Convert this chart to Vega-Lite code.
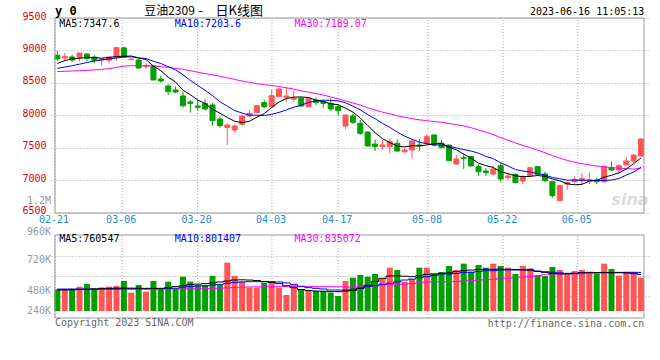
{
"$schema": "https://vega.github.io/schema/vega-lite/v6.json",
"width": 599, "height": 300,
"autosize": {"type": "none"},
"padding": {"left": 50, "top": 18, "right": 11, "bottom": 42},
"background": "white",
"config": {"view": {"stroke": null}, "text": {"font": "DejaVu Sans Mono", "fontSize": 10, "baseline": "middle"}},
"datasets": {
"one": [{}],
"grid": [
{"g": -0.32, "d": "02-21"}, {"g": 8.77, "d": "03-06"}, {"g": 18.98, "d": "03-20"}, {"g": 29.05, "d": "04-03"},
{"g": 38.0, "d": "04-17"}, {"g": 50.16, "d": "05-08"}, {"g": 60.33, "d": "05-22"}, {"g": 70.44, "d": "06-05"}
],
"k": [
{"i":0,"d":"02-21","o":8926,"h":8992,"l":8844,"c":8870,"v":455,"m5":8800,"m10":8725,"m30":8676,"vm5":441,"vm10":460,"vm30":452},
{"i":1,"d":"02-22","o":8885,"h":8961,"l":8838,"c":8905,"v":441,"m5":8845,"m10":8745,"m30":8680,"vm5":441,"vm10":460,"vm30":453},
{"i":2,"d":"02-23","o":8900,"h":8936,"l":8818,"c":8854,"v":441,"m5":8870,"m10":8765,"m30":8685,"vm5":445,"vm10":461,"vm30":454},
{"i":3,"d":"02-24","o":8890,"h":8965,"l":8833,"c":8961,"v":511,"m5":8880,"m10":8790,"m30":8690,"vm5":450,"vm10":462,"vm30":455},
{"i":4,"d":"02-27","o":8946,"h":8950,"l":8838,"c":8879,"v":567,"m5":8894,"m10":8815,"m30":8695,"vm5":455,"vm10":462,"vm30":455},
{"i":5,"d":"02-28","o":8900,"h":8926,"l":8802,"c":8849,"v":476,"m5":8890,"m10":8838,"m30":8702,"vm5":460,"vm10":462,"vm30":456},
{"i":6,"d":"03-01","o":8854,"h":8879,"l":8767,"c":8869,"v":497,"m5":8882,"m10":8855,"m30":8710,"vm5":470,"vm10":463,"vm30":457},
{"i":7,"d":"03-02","o":8849,"h":8920,"l":8802,"c":8900,"v":511,"m5":8892,"m10":8870,"m30":8722,"vm5":476,"vm10":463,"vm30":458},
{"i":8,"d":"03-03","o":8895,"h":9059,"l":8844,"c":9044,"v":525,"m5":8908,"m10":8885,"m30":8740,"vm5":480,"vm10":463,"vm30":458},
{"i":9,"d":"03-06","o":9040,"h":9055,"l":8890,"c":8895,"v":630,"m5":8911,"m10":8903,"m30":8760,"vm5":482,"vm10":464,"vm30":459},
{"i":10,"d":"03-07","o":8860,"h":8880,"l":8845,"c":8865,"v":385,"m5":8915,"m10":8902,"m30":8765,"vm5":480,"vm10":465,"vm30":460},
{"i":11,"d":"03-08","o":8854,"h":8869,"l":8720,"c":8731,"v":546,"m5":8887,"m10":8885,"m30":8767,"vm5":478,"vm10":465,"vm30":460},
{"i":12,"d":"03-09","o":8756,"h":8802,"l":8715,"c":8767,"v":406,"m5":8860,"m10":8876,"m30":8767,"vm5":476,"vm10":466,"vm30":461},
{"i":13,"d":"03-10","o":8761,"h":8777,"l":8546,"c":8546,"v":630,"m5":8761,"m10":8835,"m30":8762,"vm5":476,"vm10":468,"vm30":461},
{"i":14,"d":"03-13","o":8562,"h":8608,"l":8505,"c":8531,"v":476,"m5":8688,"m10":8800,"m30":8752,"vm5":476,"vm10":470,"vm30":462},
{"i":15,"d":"03-14","o":8454,"h":8479,"l":8315,"c":8367,"v":616,"m5":8588,"m10":8752,"m30":8740,"vm5":490,"vm10":475,"vm30":462},
{"i":16,"d":"03-15","o":8392,"h":8444,"l":8341,"c":8362,"v":476,"m5":8515,"m10":8701,"m30":8725,"vm5":515,"vm10":480,"vm30":463},
{"i":17,"d":"03-16","o":8300,"h":8367,"l":8120,"c":8151,"v":721,"m5":8391,"m10":8626,"m30":8710,"vm5":532,"vm10":500,"vm30":464},
{"i":18,"d":"03-17","o":8208,"h":8238,"l":8044,"c":8187,"v":616,"m5":8320,"m10":8540,"m30":8690,"vm5":555,"vm10":515,"vm30":465},
{"i":19,"d":"03-20","o":8146,"h":8238,"l":8074,"c":8126,"v":546,"m5":8239,"m10":8463,"m30":8665,"vm5":565,"vm10":525,"vm30":466},
{"i":20,"d":"03-21","o":8187,"h":8249,"l":8074,"c":8100,"v":546,"m5":8185,"m10":8387,"m30":8645,"vm5":575,"vm10":530,"vm30":468},
{"i":21,"d":"03-22","o":8162,"h":8197,"l":7843,"c":7920,"v":735,"m5":8097,"m10":8306,"m30":8625,"vm5":590,"vm10":545,"vm30":472},
{"i":22,"d":"03-23","o":7946,"h":7982,"l":7813,"c":7844,"v":546,"m5":8035,"m10":8213,"m30":8605,"vm5":610,"vm10":560,"vm30":478},
{"i":23,"d":"03-24","o":7818,"h":7880,"l":7546,"c":7854,"v":1015,"m5":7969,"m10":8144,"m30":8580,"vm5":630,"vm10":581,"vm30":485},
{"i":24,"d":"03-27","o":7777,"h":7864,"l":7736,"c":7839,"v":735,"m5":7911,"m10":8075,"m30":8555,"vm5":651,"vm10":600,"vm30":492},
{"i":25,"d":"03-28","o":7864,"h":8018,"l":7844,"c":7992,"v":616,"m5":7890,"m10":8038,"m30":8530,"vm5":655,"vm10":610,"vm30":498},
{"i":26,"d":"03-29","o":7992,"h":8085,"l":7982,"c":8033,"v":490,"m5":7912,"m10":8005,"m30":8510,"vm5":650,"vm10":616,"vm30":503},
{"i":27,"d":"03-30","o":8044,"h":8162,"l":8033,"c":8151,"v":490,"m5":7974,"m10":8005,"m30":8490,"vm5":640,"vm10":616,"vm30":507},
{"i":28,"d":"03-31","o":8198,"h":8238,"l":8110,"c":8136,"v":595,"m5":8030,"m10":8000,"m30":8475,"vm5":620,"vm10":616,"vm30":510},
{"i":29,"d":"04-03","o":8136,"h":8392,"l":8126,"c":8305,"v":595,"m5":8123,"m10":8017,"m30":8461,"vm5":600,"vm10":616,"vm30":511},
{"i":30,"d":"04-04","o":8289,"h":8420,"l":8285,"c":8408,"v":490,"m5":8207,"m10":8048,"m30":8446,"vm5":575,"vm10":610,"vm30":511},
{"i":31,"d":"04-06","o":8280,"h":8428,"l":8212,"c":8300,"v":336,"m5":8260,"m10":8086,"m30":8426,"vm5":530,"vm10":590,"vm30":511},
{"i":32,"d":"04-07","o":8250,"h":8382,"l":8212,"c":8265,"v":546,"m5":8283,"m10":8128,"m30":8406,"vm5":490,"vm10":560,"vm30":511},
{"i":33,"d":"04-10","o":8265,"h":8280,"l":8135,"c":8146,"v":455,"m5":8285,"m10":8158,"m30":8379,"vm5":450,"vm10":520,"vm30":511},
{"i":34,"d":"04-11","o":8135,"h":8280,"l":8120,"c":8265,"v":420,"m5":8277,"m10":8200,"m30":8358,"vm5":430,"vm10":490,"vm30":511},
{"i":35,"d":"04-12","o":8238,"h":8280,"l":8162,"c":8203,"v":420,"m5":8236,"m10":8221,"m30":8337,"vm5":420,"vm10":476,"vm30":511},
{"i":36,"d":"04-13","o":8212,"h":8238,"l":8120,"c":8187,"v":420,"m5":8213,"m10":8237,"m30":8314,"vm5":415,"vm10":462,"vm30":511},
{"i":37,"d":"04-14","o":8187,"h":8265,"l":8074,"c":8100,"v":385,"m5":8180,"m10":8232,"m30":8287,"vm5":406,"vm10":441,"vm30":511},
{"i":38,"d":"04-17","o":8135,"h":8177,"l":7997,"c":8074,"v":315,"m5":8166,"m10":8225,"m30":8255,"vm5":406,"vm10":441,"vm30":508},
{"i":39,"d":"04-18","o":7838,"h":8008,"l":7792,"c":8008,"v":630,"m5":8114,"m10":8196,"m30":8225,"vm5":420,"vm10":441,"vm30":505},
{"i":40,"d":"04-19","o":7992,"h":8034,"l":7869,"c":7895,"v":700,"m5":8053,"m10":8144,"m30":8193,"vm5":430,"vm10":455,"vm30":505},
{"i":41,"d":"04-20","o":7880,"h":7931,"l":7700,"c":7726,"v":756,"m5":7961,"m10":8087,"m30":8160,"vm5":480,"vm10":476,"vm30":510},
{"i":42,"d":"04-21","o":7746,"h":7750,"l":7525,"c":7531,"v":721,"m5":7847,"m10":8014,"m30":8118,"vm5":540,"vm10":511,"vm30":520},
{"i":43,"d":"04-24","o":7561,"h":7634,"l":7454,"c":7520,"v":777,"m5":7736,"m10":7951,"m30":8084,"vm5":620,"vm10":530,"vm30":530},
{"i":44,"d":"04-25","o":7520,"h":7623,"l":7469,"c":7546,"v":672,"m5":7644,"m10":7879,"m30":8051,"vm5":686,"vm10":560,"vm30":545},
{"i":45,"d":"04-26","o":7520,"h":7649,"l":7418,"c":7597,"v":910,"m5":7584,"m10":7818,"m30":8026,"vm5":735,"vm10":581,"vm30":555},
{"i":46,"d":"04-27","o":7572,"h":7634,"l":7443,"c":7454,"v":861,"m5":7530,"m10":7745,"m30":7995,"vm5":738,"vm10":610,"vm30":560},
{"i":47,"d":"04-28","o":7443,"h":7495,"l":7418,"c":7469,"v":616,"m5":7517,"m10":7682,"m30":7973,"vm5":730,"vm10":651,"vm30":565},
{"i":48,"d":"05-04","o":7469,"h":7608,"l":7341,"c":7608,"v":672,"m5":7535,"m10":7635,"m30":7953,"vm5":721,"vm10":670,"vm30":575},
{"i":49,"d":"05-05","o":7546,"h":7639,"l":7459,"c":7531,"v":910,"m5":7532,"m10":7588,"m30":7934,"vm5":740,"vm10":700,"vm30":590},
{"i":50,"d":"05-08","o":7572,"h":7710,"l":7556,"c":7674,"v":910,"m5":7547,"m10":7566,"m30":7919,"vm5":770,"vm10":721,"vm30":605},
{"i":51,"d":"05-09","o":7700,"h":7710,"l":7521,"c":7546,"v":777,"m5":7566,"m10":7548,"m30":7907,"vm5":780,"vm10":745,"vm30":616},
{"i":52,"d":"05-10","o":7572,"h":7623,"l":7495,"c":7505,"v":819,"m5":7573,"m10":7545,"m30":7896,"vm5":791,"vm10":777,"vm30":616},
{"i":53,"d":"05-11","o":7546,"h":7550,"l":7300,"c":7305,"v":945,"m5":7512,"m10":7524,"m30":7877,"vm5":800,"vm10":777,"vm30":616},
{"i":54,"d":"05-12","o":7254,"h":7392,"l":7239,"c":7331,"v":861,"m5":7472,"m10":7502,"m30":7860,"vm5":830,"vm10":790,"vm30":620},
{"i":55,"d":"05-15","o":7351,"h":7418,"l":7177,"c":7341,"v":994,"m5":7406,"m10":7476,"m30":7839,"vm5":847,"vm10":812,"vm30":630},
{"i":56,"d":"05-16","o":7367,"h":7382,"l":7213,"c":7223,"v":826,"m5":7341,"m10":7453,"m30":7812,"vm5":860,"vm10":812,"vm30":640},
{"i":57,"d":"05-17","o":7213,"h":7249,"l":7069,"c":7136,"v":966,"m5":7267,"m10":7420,"m30":7778,"vm5":872,"vm10":830,"vm30":651},
{"i":58,"d":"05-18","o":7146,"h":7197,"l":7069,"c":7121,"v":910,"m5":7230,"m10":7371,"m30":7744,"vm5":875,"vm10":847,"vm30":655},
{"i":59,"d":"05-19","o":7100,"h":7228,"l":7085,"c":7177,"v":994,"m5":7200,"m10":7336,"m30":7706,"vm5":875,"vm10":847,"vm30":665},
{"i":60,"d":"05-22","o":7228,"h":7264,"l":6982,"c":7023,"v":945,"m5":7136,"m10":7271,"m30":7660,"vm5":878,"vm10":861,"vm30":686},
{"i":61,"d":"05-23","o":7044,"h":7121,"l":7008,"c":7069,"v":910,"m5":7105,"m10":7223,"m30":7619,"vm5":875,"vm10":861,"vm30":690},
{"i":62,"d":"05-24","o":7095,"h":7110,"l":6957,"c":6967,"v":777,"m5":7071,"m10":7169,"m30":7576,"vm5":872,"vm10":861,"vm30":700},
{"i":63,"d":"05-25","o":6992,"h":7085,"l":6941,"c":7059,"v":945,"m5":7059,"m10":7145,"m30":7540,"vm5":865,"vm10":861,"vm30":715},
{"i":64,"d":"05-26","o":7074,"h":7203,"l":7059,"c":7197,"v":896,"m5":7063,"m10":7131,"m30":7504,"vm5":860,"vm10":861,"vm30":721},
{"i":65,"d":"05-29","o":7213,"h":7223,"l":7074,"c":7095,"v":756,"m5":7077,"m10":7107,"m30":7467,"vm5":830,"vm10":840,"vm30":735},
{"i":66,"d":"05-30","o":7100,"h":7136,"l":6972,"c":6997,"v":735,"m5":7063,"m10":7084,"m30":7428,"vm5":805,"vm10":826,"vm30":760},
{"i":67,"d":"05-31","o":6982,"h":6985,"l":6736,"c":6767,"v":924,"m5":7023,"m10":7047,"m30":7383,"vm5":790,"vm10":815,"vm30":777},
{"i":68,"d":"06-01","o":6690,"h":6925,"l":6685,"c":6921,"v":861,"m5":6995,"m10":7027,"m30":7345,"vm5":780,"vm10":800,"vm30":777},
{"i":69,"d":"06-02","o":6946,"h":6982,"l":6854,"c":6967,"v":756,"m5":6949,"m10":7006,"m30":7310,"vm5":777,"vm10":791,"vm30":777},
{"i":70,"d":"06-05","o":6982,"h":7059,"l":6956,"c":7018,"v":840,"m5":6934,"m10":7006,"m30":7281,"vm5":790,"vm10":791,"vm30":777},
{"i":71,"d":"06-06","o":6997,"h":7110,"l":6941,"c":7033,"v":861,"m5":6941,"m10":7002,"m30":7258,"vm5":808,"vm10":800,"vm30":777},
{"i":72,"d":"06-07","o":6992,"h":7121,"l":6946,"c":7008,"v":791,"m5":6989,"m10":7006,"m30":7240,"vm5":812,"vm10":805,"vm30":790},
{"i":73,"d":"06-08","o":7008,"h":7044,"l":6946,"c":6982,"v":791,"m5":7002,"m10":6999,"m30":7222,"vm5":808,"vm10":805,"vm30":805},
{"i":74,"d":"06-09","o":6982,"h":7223,"l":6967,"c":7213,"v":994,"m5":7051,"m10":7000,"m30":7211,"vm5":805,"vm10":805,"vm30":812},
{"i":75,"d":"06-12","o":7197,"h":7290,"l":7146,"c":7162,"v":882,"m5":7080,"m10":7007,"m30":7197,"vm5":805,"vm10":805,"vm30":812},
{"i":76,"d":"06-13","o":7162,"h":7249,"l":7095,"c":7228,"v":742,"m5":7119,"m10":7030,"m30":7189,"vm5":805,"vm10":805,"vm30":812},
{"i":77,"d":"06-14","o":7238,"h":7367,"l":7238,"c":7300,"v":812,"m5":7177,"m10":7083,"m30":7183,"vm5":800,"vm10":805,"vm30":815},
{"i":78,"d":"06-15","o":7300,"h":7408,"l":7264,"c":7392,"v":777,"m5":7259,"m10":7130,"m30":7176,"vm5":785,"vm10":805,"vm30":815},
{"i":79,"d":"06-16","o":7377,"h":7649,"l":7367,"c":7638,"v":700,"m5":7348,"m10":7204,"m30":7189,"vm5":765,"vm10":805,"vm30":812}
]
},
"resolve": {"scale": {"y": "independent"}},
"layer": [
{
"layer": [
{"data": {"name": "k"}, "mark": {"type": "rule", "opacity": 0},
 "encoding": {
  "x": {"field": "i", "type": "quantitative", "scale": {"domain": [-0.32, 79.4], "nice": false, "zero": false}, "axis": null},
  "y": {"field": "c", "type": "quantitative", "scale": {"domain": [4884.6, 9500], "nice": false, "zero": false},
        "axis": {"orient": "left", "values": [6500, 7000, 7500, 8000, 8500, 9000, 9500], "format": "d", "title": null, "domain": false, "ticks": false,
                 "labelPadding": 4, "labelColor": "#e00000", "labelFont": "DejaVu Sans Mono", "labelFontSize": 10, "labelOffset": -2,
                 "labelOverlap": false, "grid": true, "gridColor": "#aaaaaa", "gridDash": [1, 2], "gridWidth": 1}}}},
{"data": {"name": "grid"}, "mark": {"type": "rule", "color": "#aaaaaa", "strokeDash": [1, 2], "strokeWidth": 1},
 "encoding": {
  "x": {"field": "g", "type": "quantitative", "scale": {"domain": [-0.32, 79.4], "nice": false, "zero": false}},
  "y": {"datum": 6500, "type": "quantitative", "scale": {"domain": [4884.6, 9500], "nice": false, "zero": false}},
  "y2": {"datum": 9500}}},
{"data": {"name": "one"}, "mark": {"type": "text", "text": "sina", "font": "DejaVu Sans", "fontSize": 16, "fontStyle": "italic", "fontWeight": "bold", "color": "#dcdcdc", "align": "center"},
 "encoding": {
  "x": {"datum": 77.5, "type": "quantitative", "scale": {"domain": [-0.32, 79.4], "nice": false, "zero": false}},
  "y": {"datum": 6700, "type": "quantitative", "scale": {"domain": [4884.6, 9500], "nice": false, "zero": false}}}},
{"data": {"name": "k"}, "mark": {"type": "rule", "strokeWidth": 1},
 "encoding": {
  "x": {"field": "i", "type": "quantitative", "scale": {"domain": [-0.32, 79.4], "nice": false, "zero": false}},
  "y": {"field": "l", "type": "quantitative", "scale": {"domain": [4884.6, 9500], "nice": false, "zero": false}},
  "y2": {"field": "h"},
  "color": {"condition": {"test": "datum.c >= datum.o", "value": "#ff5555"}, "value": "#00a000"}}},
{"data": {"name": "k"}, "mark": {"type": "bar", "size": 5, "strokeWidth": 1},
 "encoding": {
  "x": {"field": "i", "type": "quantitative", "scale": {"domain": [-0.32, 79.4], "nice": false, "zero": false}},
  "y": {"field": "o", "type": "quantitative", "scale": {"domain": [4884.6, 9500], "nice": false, "zero": false}},
  "y2": {"field": "c"},
  "fill": {"condition": {"test": "datum.c >= datum.o", "value": "#ff5555"}, "value": "#00a000"},
  "stroke": {"condition": {"test": "datum.c >= datum.o", "value": "#ff5555"}, "value": "#00a000"}}},
{"data": {"name": "k"}, "mark": {"type": "line", "color": "#ff00ff", "strokeWidth": 1},
 "encoding": {
  "x": {"field": "i", "type": "quantitative", "scale": {"domain": [-0.32, 79.4], "nice": false, "zero": false}},
  "y": {"field": "m30", "type": "quantitative", "scale": {"domain": [4884.6, 9500], "nice": false, "zero": false}}}},
{"data": {"name": "k"}, "mark": {"type": "line", "color": "#0000ff", "strokeWidth": 1},
 "encoding": {
  "x": {"field": "i", "type": "quantitative", "scale": {"domain": [-0.32, 79.4], "nice": false, "zero": false}},
  "y": {"field": "m10", "type": "quantitative", "scale": {"domain": [4884.6, 9500], "nice": false, "zero": false}}}},
{"data": {"name": "k"}, "mark": {"type": "line", "color": "#000000", "strokeWidth": 1},
 "encoding": {
  "x": {"field": "i", "type": "quantitative", "scale": {"domain": [-0.32, 79.4], "nice": false, "zero": false}},
  "y": {"field": "m5", "type": "quantitative", "scale": {"domain": [4884.6, 9500], "nice": false, "zero": false}}}},
{"data": {"name": "one"}, "mark": {"type": "rect", "filled": false, "stroke": "#999999", "strokeWidth": 1},
 "encoding": {
  "x": {"datum": -0.32, "type": "quantitative", "scale": {"domain": [-0.32, 79.4], "nice": false, "zero": false}},
  "x2": {"datum": 79.4},
  "y": {"datum": 6500, "type": "quantitative", "scale": {"domain": [4884.6, 9500], "nice": false, "zero": false}},
  "y2": {"datum": 9500}}},
{"data": {"name": "grid"}, "mark": {"type": "text", "color": "#1a8ad4", "align": "center", "dx": -1},
 "encoding": {
  "x": {"field": "g", "type": "quantitative", "scale": {"domain": [-0.32, 79.4], "nice": false, "zero": false}},
  "y": {"datum": 6390, "type": "quantitative", "scale": {"domain": [4884.6, 9500], "nice": false, "zero": false}},
  "text": {"field": "d"}}},
{"data": {"name": "one"}, "mark": {"type": "text", "text": "MA5:7347.6", "align": "left", "color": "#000000"},
 "encoding": {
  "x": {"datum": 0.25, "type": "quantitative", "scale": {"domain": [-0.32, 79.4], "nice": false, "zero": false}},
  "y": {"datum": 9412, "type": "quantitative", "scale": {"domain": [4884.6, 9500], "nice": false, "zero": false}}}},
{"data": {"name": "one"}, "mark": {"type": "text", "text": "MA10:7203.6", "align": "left", "color": "#0000ff"},
 "encoding": {
  "x": {"datum": 15.9, "type": "quantitative", "scale": {"domain": [-0.32, 79.4], "nice": false, "zero": false}},
  "y": {"datum": 9412, "type": "quantitative", "scale": {"domain": [4884.6, 9500], "nice": false, "zero": false}}}},
{"data": {"name": "one"}, "mark": {"type": "text", "text": "MA30:7189.07", "align": "left", "color": "#ff00ff"},
 "encoding": {
  "x": {"datum": 32.1, "type": "quantitative", "scale": {"domain": [-0.32, 79.4], "nice": false, "zero": false}},
  "y": {"datum": 9412, "type": "quantitative", "scale": {"domain": [4884.6, 9500], "nice": false, "zero": false}}}},
{"data": {"name": "one"}, "mark": {"type": "text", "text": "y 0", "align": "left", "color": "#000000", "fontSize": 12, "fontWeight": "bold"},
 "encoding": {
  "x": {"datum": -0.32, "type": "quantitative", "scale": {"domain": [-0.32, 79.4], "nice": false, "zero": false}},
  "y": {"datum": 9607, "type": "quantitative", "scale": {"domain": [4884.6, 9500], "nice": false, "zero": false}}}},
{"data": {"name": "one"}, "mark": {"type": "text", "text": "豆油2309", "align": "left", "color": "#000000", "font": "Noto Sans CJK SC", "fontSize": 12},
 "encoding": {
  "x": {"datum": 11.75, "type": "quantitative", "scale": {"domain": [-0.32, 79.4], "nice": false, "zero": false}},
  "y": {"datum": 9607, "type": "quantitative", "scale": {"domain": [4884.6, 9500], "nice": false, "zero": false}}}},
{"data": {"name": "one"}, "mark": {"type": "text", "text": "-", "align": "center", "color": "#000000", "fontSize": 12},
 "encoding": {
  "x": {"datum": 19.4, "type": "quantitative", "scale": {"domain": [-0.32, 79.4], "nice": false, "zero": false}},
  "y": {"datum": 9607, "type": "quantitative", "scale": {"domain": [4884.6, 9500], "nice": false, "zero": false}}}},
{"data": {"name": "one"}, "mark": {"type": "text", "text": "日K线图", "align": "left", "color": "#000000", "font": "Noto Sans CJK SC", "fontSize": 13},
 "encoding": {
  "x": {"datum": 21.41, "type": "quantitative", "scale": {"domain": [-0.32, 79.4], "nice": false, "zero": false}},
  "y": {"datum": 9607, "type": "quantitative", "scale": {"domain": [4884.6, 9500], "nice": false, "zero": false}}}},
{"data": {"name": "one"}, "mark": {"type": "text", "text": "2023-06-16 11:05:13", "align": "right", "color": "#000000"},
 "encoding": {
  "x": {"datum": 79.44, "type": "quantitative", "scale": {"domain": [-0.32, 79.4], "nice": false, "zero": false}},
  "y": {"datum": 9592, "type": "quantitative", "scale": {"domain": [4884.6, 9500], "nice": false, "zero": false}}}},
{"data": {"name": "one"}, "mark": {"type": "text", "text": "1.2M", "align": "right", "color": "#999999"},
 "encoding": {
  "x": {"datum": -0.852, "type": "quantitative", "scale": {"domain": [-0.32, 79.4], "nice": false, "zero": false}},
  "y": {"datum": 6685, "type": "quantitative", "scale": {"domain": [4884.6, 9500], "nice": false, "zero": false}}}}
]
},
{
"layer": [
{"data": {"name": "k"}, "mark": {"type": "rule", "opacity": 0},
 "encoding": {
  "x": {"field": "i", "type": "quantitative", "scale": {"domain": [-0.32, 79.4], "nice": false, "zero": false}},
  "y": {"field": "v", "type": "quantitative", "scale": {"domain": [-147, 6153], "nice": false, "zero": false},
        "axis": {"orient": "right", "values": [321, 741, 1161], "title": null, "domain": false, "ticks": false, "labels": false,
                 "grid": true, "gridColor": "#aaaaaa", "gridDash": [1, 2], "gridWidth": 1}}}},
{"data": {"name": "grid"}, "mark": {"type": "rule", "color": "#aaaaaa", "strokeDash": [1, 2], "strokeWidth": 1},
 "encoding": {
  "x": {"field": "g", "type": "quantitative", "scale": {"domain": [-0.32, 79.4], "nice": false, "zero": false}},
  "y": {"datum": -147, "type": "quantitative", "scale": {"domain": [-147, 6153], "nice": false, "zero": false}},
  "y2": {"datum": 1596}}},
{"data": {"name": "k"}, "mark": {"type": "bar", "size": 6},
 "encoding": {
  "x": {"field": "i", "type": "quantitative", "scale": {"domain": [-0.32, 79.4], "nice": false, "zero": false}},
  "y": {"field": "v", "type": "quantitative", "scale": {"domain": [-147, 6153], "nice": false, "zero": false}},
  "y2": {"datum": 0},
  "color": {"condition": {"test": "datum.c >= datum.o", "value": "#ff5555"}, "value": "#00a000"}}},
{"data": {"name": "k"}, "mark": {"type": "line", "color": "#ff00ff", "strokeWidth": 1, "interpolate": "step"},
 "encoding": {
  "x": {"field": "i", "type": "quantitative", "scale": {"domain": [-0.32, 79.4], "nice": false, "zero": false}},
  "y": {"field": "vm30", "type": "quantitative", "scale": {"domain": [-147, 6153], "nice": false, "zero": false}}}},
{"data": {"name": "k"}, "mark": {"type": "line", "color": "#0000ff", "strokeWidth": 1, "interpolate": "step"},
 "encoding": {
  "x": {"field": "i", "type": "quantitative", "scale": {"domain": [-0.32, 79.4], "nice": false, "zero": false}},
  "y": {"field": "vm10", "type": "quantitative", "scale": {"domain": [-147, 6153], "nice": false, "zero": false}}}},
{"data": {"name": "k"}, "mark": {"type": "line", "color": "#000000", "strokeWidth": 1, "interpolate": "step"},
 "encoding": {
  "x": {"field": "i", "type": "quantitative", "scale": {"domain": [-0.32, 79.4], "nice": false, "zero": false}},
  "y": {"field": "vm5", "type": "quantitative", "scale": {"domain": [-147, 6153], "nice": false, "zero": false}}}},
{"data": {"name": "one"}, "mark": {"type": "rect", "filled": false, "stroke": "#999999", "strokeWidth": 1},
 "encoding": {
  "x": {"datum": -0.32, "type": "quantitative", "scale": {"domain": [-0.32, 79.4], "nice": false, "zero": false}},
  "x2": {"datum": 79.4},
  "y": {"datum": -147, "type": "quantitative", "scale": {"domain": [-147, 6153], "nice": false, "zero": false}},
  "y2": {"datum": 1596}}},
{"data": {"name": "one"}, "mark": {"type": "text", "text": "MA5:760547", "align": "left", "color": "#000000"},
 "encoding": {
  "x": {"datum": 0.25, "type": "quantitative", "scale": {"domain": [-0.32, 79.4], "nice": false, "zero": false}},
  "y": {"datum": 1512, "type": "quantitative", "scale": {"domain": [-147, 6153], "nice": false, "zero": false}}}},
{"data": {"name": "one"}, "mark": {"type": "text", "text": "MA10:801407", "align": "left", "color": "#0000ff"},
 "encoding": {
  "x": {"datum": 15.9, "type": "quantitative", "scale": {"domain": [-0.32, 79.4], "nice": false, "zero": false}},
  "y": {"datum": 1512, "type": "quantitative", "scale": {"domain": [-147, 6153], "nice": false, "zero": false}}}},
{"data": {"name": "one"}, "mark": {"type": "text", "text": "MA30:835072", "align": "left", "color": "#ff00ff"},
 "encoding": {
  "x": {"datum": 32.1, "type": "quantitative", "scale": {"domain": [-0.32, 79.4], "nice": false, "zero": false}},
  "y": {"datum": 1512, "type": "quantitative", "scale": {"domain": [-147, 6153], "nice": false, "zero": false}}}},
{"data": {"name": "one"}, "mark": {"type": "text", "text": "960K", "align": "right", "color": "#999999"},
 "encoding": {
  "x": {"datum": -0.852, "type": "quantitative", "scale": {"domain": [-0.32, 79.4], "nice": false, "zero": false}},
  "y": {"datum": 1660, "type": "quantitative", "scale": {"domain": [-147, 6153], "nice": false, "zero": false}}}},
{"data": {"name": "one"}, "mark": {"type": "text", "text": "720K", "align": "right", "color": "#999999"},
 "encoding": {
  "x": {"datum": -0.852, "type": "quantitative", "scale": {"domain": [-0.32, 79.4], "nice": false, "zero": false}},
  "y": {"datum": 1071, "type": "quantitative", "scale": {"domain": [-147, 6153], "nice": false, "zero": false}}}},
{"data": {"name": "one"}, "mark": {"type": "text", "text": "480K", "align": "right", "color": "#999999"},
 "encoding": {
  "x": {"datum": -0.852, "type": "quantitative", "scale": {"domain": [-0.32, 79.4], "nice": false, "zero": false}},
  "y": {"datum": 426, "type": "quantitative", "scale": {"domain": [-147, 6153], "nice": false, "zero": false}}}},
{"data": {"name": "one"}, "mark": {"type": "text", "text": "240K", "align": "right", "color": "#999999"},
 "encoding": {
  "x": {"datum": -0.852, "type": "quantitative", "scale": {"domain": [-0.32, 79.4], "nice": false, "zero": false}},
  "y": {"datum": 0, "type": "quantitative", "scale": {"domain": [-147, 6153], "nice": false, "zero": false}}}},
{"data": {"name": "one"}, "mark": {"type": "text", "text": "Copyright 2023 SINA.COM", "align": "left", "color": "#666666"},
 "encoding": {
  "x": {"datum": -0.32, "type": "quantitative", "scale": {"domain": [-0.32, 79.4], "nice": false, "zero": false}},
  "y": {"datum": -262, "type": "quantitative", "scale": {"domain": [-147, 6153], "nice": false, "zero": false}}}},
{"data": {"name": "one"}, "mark": {"type": "text", "text": "http://finance.sina.com.cn", "align": "right", "color": "#666666"},
 "encoding": {
  "x": {"datum": 79.44, "type": "quantitative", "scale": {"domain": [-0.32, 79.4], "nice": false, "zero": false}},
  "y": {"datum": -273, "type": "quantitative", "scale": {"domain": [-147, 6153], "nice": false, "zero": false}}}}
]
}
]
}
